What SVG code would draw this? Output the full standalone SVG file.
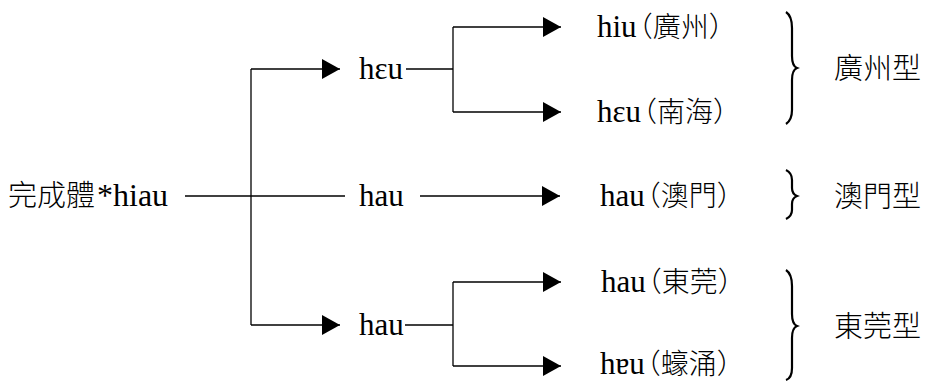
<svg xmlns="http://www.w3.org/2000/svg" width="926" height="381" viewBox="0 0 926 381">
<defs>
<style>
.t{font-family:"Liberation Serif","Noto Sans CJK TC",serif;font-size:31px;fill:#000}
.c{font-family:"Noto Sans CJK TC","Noto Sans CJK SC",sans-serif;font-size:28px;font-weight:300;font-feature-settings:"halt" 1}
.lb{font-family:"Noto Sans CJK TC","Noto Sans CJK SC",sans-serif;font-size:29px;font-weight:300;fill:#000}
.ln{stroke:#000;stroke-width:1.3;fill:none}
.br{stroke:#000;stroke-width:2.2;fill:none}
</style>
<marker id="ah" markerUnits="userSpaceOnUse" markerWidth="20" markerHeight="20" refX="18" refY="10" orient="auto">
<path d="M0,0 L18,10 L0,20 Z" fill="#000"/>
</marker>
</defs>
<rect width="926" height="381" fill="#fff"/>
<g id="connectors">
<path class="ln" d="M185,196 H345"/>
<path class="ln" d="M251,69 V325"/>
<path class="ln" d="M251,69 H340" marker-end="url(#ah)"/>
<path class="ln" d="M251,325 H340" marker-end="url(#ah)"/>
<path class="ln" d="M420,196 H560" marker-end="url(#ah)"/>
<path class="ln" d="M406,69 H453"/>
<path class="ln" d="M453,27 V112"/>
<path class="ln" d="M453,27 H561" marker-end="url(#ah)"/>
<path class="ln" d="M453,112 H561" marker-end="url(#ah)"/>
<path class="ln" d="M405,325 H453"/>
<path class="ln" d="M453,282 V366"/>
<path class="ln" d="M453,282 H561" marker-end="url(#ah)"/>
<path class="ln" d="M453,366 H561" marker-end="url(#ah)"/>
</g>
<g id="root"><text class="t" x="8" y="206" style="font-size:32px"><tspan class="c" style="font-size:29px">完成體</tspan><tspan dx="2">*hiau</tspan></text></g>
<g id="heu"><text class="t" x="359" y="79">hɛu</text></g>
<g id="hau-mid"><text class="t" x="359" y="206">hau</text></g>
<g id="hau-low"><text class="t" x="359" y="335">hau</text></g>
<g id="hiu-gz"><text class="t" x="597" y="37">hiu<tspan class="c" dx="2">（廣州）</tspan></text></g>
<g id="heu-nh"><text class="t" x="597" y="122">hɛu<tspan class="c" dx="2">（南海）</tspan></text></g>
<g id="hau-mo"><text class="t" x="600" y="206">hau<tspan class="c" dx="2">（澳門）</tspan></text></g>
<g id="hau-dg"><text class="t" x="601" y="292">hau<tspan class="c" dx="2">（東莞）</tspan></text></g>
<g id="heu-hc"><text class="t" x="600" y="374">hɐu<tspan class="c" dx="2">（蠔涌）</tspan></text></g>
<g id="type-gz">
<path class="br" d="M786,12 Q792,16 792,28 L792,56 Q792,66 797,68 Q792,70 792,80 L792,110 Q792,120 786,124"/>
<text class="lb" x="834" y="79">廣州型</text>
</g>
<g id="type-mo">
<path class="br" d="M786,170 Q792,173 792,180 L792,188 Q792,194 797,196 Q792,198 792,204 L792,210 Q792,216 786,219"/>
<text class="lb" x="834" y="207">澳門型</text>
</g>
<g id="type-dg">
<path class="br" d="M786,270 Q792,274 792,286 L792,314 Q792,324 797,326 Q792,328 792,338 L792,368 Q792,378 786,380"/>
<text class="lb" x="834" y="337">東莞型</text>
</g>
</svg>
